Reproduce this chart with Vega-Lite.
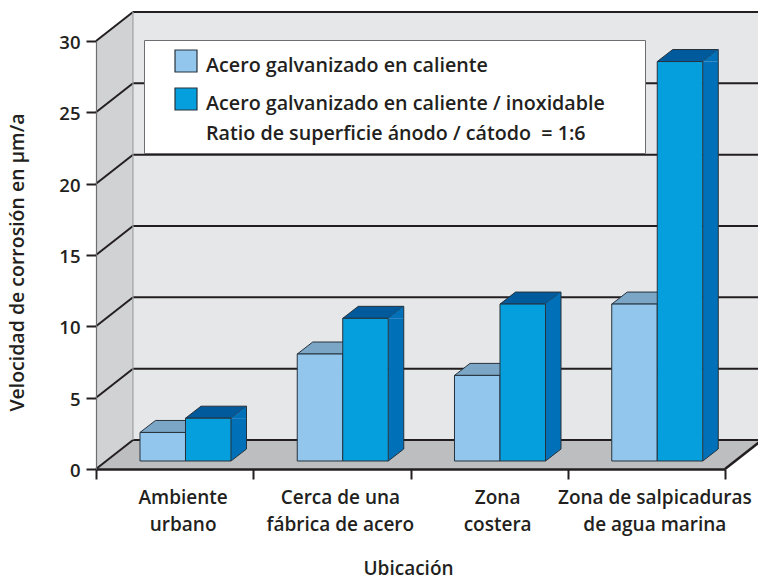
{
"$schema":"https://vega.github.io/schema/vega-lite/v6.json",
"width":629,"height":428,"autosize":"none",
"padding":{"left":96,"top":41,"right":33,"bottom":109},
"background":"white",
"config":{"view":{"stroke":null},"font":"Open Sans"},
"resolve":{"scale":{"x":"independent"}},
"datasets":{
 "bars":[
  {"ubicacion":"Ambiente urbano","serie":"Acero galvanizado en caliente","valor":2},
  {"ubicacion":"Ambiente urbano","serie":"Acero galvanizado en caliente / inoxidable","valor":3},
  {"ubicacion":"Cerca de una fábrica de acero","serie":"Acero galvanizado en caliente","valor":7.5},
  {"ubicacion":"Cerca de una fábrica de acero","serie":"Acero galvanizado en caliente / inoxidable","valor":10},
  {"ubicacion":"Zona costera","serie":"Acero galvanizado en caliente","valor":6},
  {"ubicacion":"Zona costera","serie":"Acero galvanizado en caliente / inoxidable","valor":11},
  {"ubicacion":"Zona de salpicaduras de agua marina","serie":"Acero galvanizado en caliente","valor":11},
  {"ubicacion":"Zona de salpicaduras de agua marina","serie":"Acero galvanizado en caliente / inoxidable","valor":28}
 ],
 "marcas":[{"t":0},{"t":5},{"t":10},{"t":15},{"t":20},{"t":25},{"t":30}],
 "pared":[{"p":0,"alto":30,"bajo":0},{"p":0.235,"alto":32.03,"bajo":2.03}],
 "suelo":[{"q":0,"a":0,"b":4},{"q":2.03,"a":0.235,"b":4.235}],
 "fondo":[{"a":0.235,"b":4.3,"alto":32.03,"bajo":2.03}]
},
"layer":[
 {"layer":[
  {"data":{"name":"fondo"},"mark":{"type":"rect","fill":"#e6e7e9"},
   "encoding":{"x":{"field":"a","type":"quantitative","scale":{"domain":[0,4],"nice":false,"zero":false},"axis":null},"x2":{"field":"b"},
    "y":{"field":"alto","type":"quantitative","scale":{"domain":[0,30],"nice":false},"title":"Velocidad de corrosión en µm/a"},"y2":{"field":"bajo"}}},
  {"data":{"name":"pared"},"mark":{"type":"area","fill":"#d1d2d4","opacity":1},
   "encoding":{"x":{"field":"p","type":"quantitative"},"y":{"field":"alto","type":"quantitative"},"y2":{"field":"bajo"}}},
  {"data":{"name":"suelo"},"mark":{"type":"area","orient":"horizontal","fill":"#bdbec0","opacity":1},
   "encoding":{"y":{"field":"q","type":"quantitative"},"x":{"field":"a","type":"quantitative"},"x2":{"field":"b"}}},
  {"data":{"name":"marcas"},"mark":{"type":"rule","stroke":"#231f20","strokeWidth":2,"yOffset":-29,"y2Offset":-29},
   "encoding":{"x":{"datum":0.235,"type":"quantitative"},"x2":{"datum":4.3},"y":{"field":"t","type":"quantitative"}}},
  {"data":{"name":"marcas"},"mark":{"type":"point","shape":"M0,0L37,-29","size":4,"filled":false,"stroke":"#231f20","strokeWidth":2,"opacity":1},
   "encoding":{"x":{"datum":0,"type":"quantitative"},"y":{"field":"t","type":"quantitative"}}},
  {"data":{"name":"marcas"},"transform":[{"filter":"datum.t == 0"}],"mark":{"type":"point","shape":"M0,0L37,-29","size":4,"filled":false,"stroke":"#231f20","strokeWidth":2.5,"opacity":1},
   "encoding":{"x":{"datum":4,"type":"quantitative"},"y":{"field":"t","type":"quantitative"}}},
  {"data":{"name":"pared"},"transform":[{"filter":"datum.p > 0"}],"mark":{"type":"rule","stroke":"#9da1a5","strokeWidth":1.2},
   "encoding":{"x":{"field":"p","type":"quantitative"},"y":{"field":"alto","type":"quantitative"},"y2":{"field":"bajo"}}}
 ]},
 {"data":{"name":"bars"},
  "encoding":{
   "x":{"field":"ubicacion","type":"nominal","scale":{"paddingInner":0,"paddingOuter":0},
     "axis":{"orient":"bottom","title":"Ubicación","titleFontSize":19,"titleFontWeight":600,"titleColor":"#231f20","titlePadding":25,"titleX":312,
      "labelAngle":0,"labelFontSize":19,"labelFontWeight":600,"labelColor":"#231f20","labelPadding":9,"labelOffset":8,"labelLimit":300,"labelLineHeight":27,
      "tickBand":"extent","tickSize":10,"tickWidth":2,"tickColor":"#231f20","domainColor":"#231f20","domainWidth":2.5,"zindex":1,
      "labelExpr":"datum.label == 'Ambiente urbano' ? ['Ambiente','urbano'] : datum.label == 'Cerca de una fábrica de acero' ? ['Cerca de una','fábrica de acero'] : datum.label == 'Zona costera' ? ['Zona','costera'] : datum.label == 'Zona de salpicaduras de agua marina' ? ['Zona de salpicaduras','de agua marina'] : ''"}},
   "y":{"field":"valor","type":"quantitative",
     "axis":{"title":"Velocidad de corrosión en µm/a","titleFontSize":19.5,"titleFontWeight":600,"titleColor":"#231f20","titlePadding":31,"titleY":221,
      "values":[0,5,10,15,20,25,30],"labelFontSize":18.5,"labelFontWeight":600,"labelColor":"#231f20","labelPadding":6,"labelOffset":1.5,"grid":false,
      "tickSize":10,"tickWidth":2,"tickColor":"#231f20","domainColor":"#6d6e71","domainWidth":1.2,"zindex":1}}
  },
  "layer":[
   {"transform":[{"filter":"datum.serie == 'Acero galvanizado en caliente'"}],
    "mark":{"type":"point","shape":"M-22.75,0L22.75,0L38.25,-12L-7.25,-12Z","size":4,"filled":true,"fill":"#7ba6c6","stroke":"#26323c","strokeWidth":1,"opacity":1,"xOffset":-11.875,"yOffset":-8}},
   {"transform":[{"filter":"datum.serie != 'Acero galvanizado en caliente'"}],
    "mark":{"type":"point","shape":"M-22.75,0L22.75,0L38.25,-12L-7.25,-12Z","size":4,"filled":true,"fill":"#015a9c","stroke":"#26323c","strokeWidth":1,"opacity":1,"xOffset":33.625,"yOffset":-8}},
   {"transform":[{"filter":"datum.serie != 'Acero galvanizado en caliente'"}],
    "mark":{"type":"bar","width":15.5,"fill":"#0070b8","xOffset":64.125,"yOffset":-8,"y2Offset":-20},
    "encoding":{"y2":{"datum":0}}},
   {"transform":[{"filter":"datum.serie != 'Acero galvanizado en caliente'"}],
    "mark":{"type":"point","shape":"M0,0L15.5,-12L15.5,0Z","size":4,"filled":true,"fill":"#0070b8","opacity":1,"xOffset":56.375,"yOffset":-8}},
   {"transform":[{"filter":"datum.serie != 'Acero galvanizado en caliente'"}],
    "mark":{"type":"point","shape":"M0,0L15.5,-12L0,-12Z","size":4,"filled":true,"fill":"#0070b8","opacity":1,"xOffset":56.375,"yOffset":-8},
    "encoding":{"y":{"datum":0,"type":"quantitative"}}},
   {"transform":[{"filter":"datum.serie != 'Acero galvanizado en caliente'"}],
    "mark":{"type":"point","shape":"M0,0L15.5,-12","size":4,"filled":false,"stroke":"#26323c","strokeWidth":1,"opacity":1,"xOffset":56.375,"yOffset":-8},
    "encoding":{"y":{"datum":0,"type":"quantitative"}}},
   {"transform":[{"filter":"datum.serie != 'Acero galvanizado en caliente'"}],
    "mark":{"type":"rule","stroke":"#26323c","strokeWidth":1,"xOffset":71.875,"yOffset":-20,"y2Offset":-20},
    "encoding":{"y2":{"datum":0}}},
   {"mark":{"type":"bar","stroke":"#26323c","strokeWidth":1,"yOffset":-8,"y2Offset":-8},
    "encoding":{"y2":{"datum":0},
     "xOffset":{"field":"serie","type":"nominal","scale":{"paddingInner":0,"paddingOuter":0.728,"align":0.664}},
     "fill":{"field":"serie","type":"nominal","scale":{"range":["#93c6ec","#069fdd"]},
      "legend":{"orient":"none","legendX":48,"legendY":-1,"title":"\u00a0","titleOrient":"right","titlePadding":31,"titleFontSize":6,"padding":9,"fillColor":"white","strokeColor":"#6d6e71","zindex":1,
       "symbolType":"square","symbolSize":484,"symbolStrokeColor":"#26323c","symbolStrokeWidth":1.2,"symbolOpacity":1,"symbolOffset":21,"labelOffset":8,
       "labelFontSize":19.7,"labelFontWeight":600,"labelColor":"#231f20","labelLimit":600,"rowPadding":9,
       "encoding":{"labels":{"dy":{"value":5},"lineHeight":{"value":30}}},
       "labelExpr":"datum.value == 'Acero galvanizado en caliente' ? datum.value : [datum.value,'Ratio de superficie ánodo / cátodo\u00a0\u00a0= 1:6']"}}}}
  ]}
]}
